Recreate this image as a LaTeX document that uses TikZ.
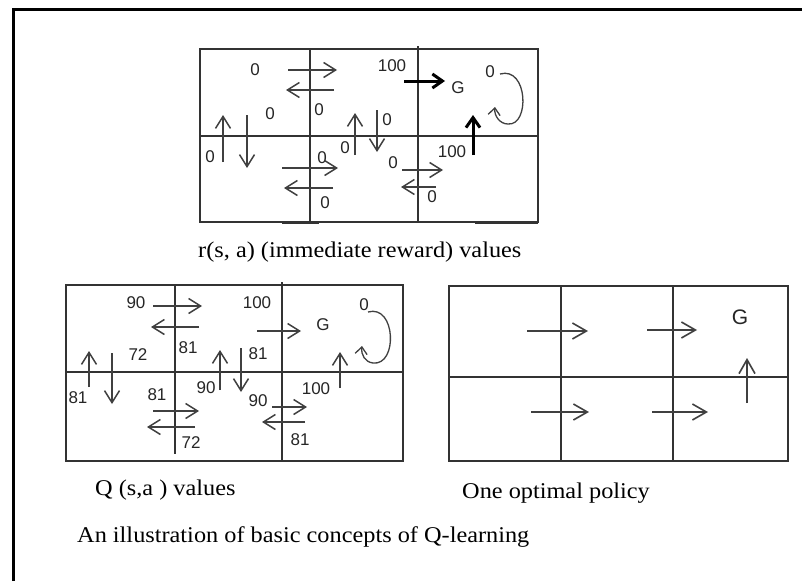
\documentclass[tikz,border=0pt]{standalone}
\usepackage{fontspec}
\setmainfont{Liberation Serif}
\setsansfont{Liberation Sans}
\usetikzlibrary{arrows.meta}
\begin{document}
\begin{tikzpicture}[x=1pt,y=-1pt,
  gridline/.style={draw=black!80,line width=1.7pt},
  arr/.style={-{Straight Barb[length=12pt,width=15pt]},draw=black!75,line width=1.5pt},
  parr/.style={-{Straight Barb[length=14pt,width=16pt]},draw=black!75,line width=1.6pt},
  barr/.style={-{Straight Barb[length=10pt,width=14pt]},draw=black,line width=3pt},
  loopline/.style={draw=black!75,line width=1.3pt},
  num/.style={font=\sffamily\fontsize{17}{17}\selectfont,text=black!85,inner sep=0pt},
  bigG/.style={font=\sffamily\fontsize{21}{21}\selectfont,text=black!85,inner sep=0pt},
  caption/.style={font=\fontsize{22.5}{26}\selectfont,inner sep=0pt,anchor=base west,xscale=1.08}]
\useasboundingbox (0,0) rectangle (802,581);
\fill[white] (0,0) rectangle (802,581);
% frame
\draw[line width=3pt,black] (13.5,581) -- (13.5,9.5) -- (802,9.5);

% ---------------- top grid r(s,a)
\draw[gridline] (200,49) rectangle (538,222);
\draw[gridline] (200,136) -- (538,136);
\draw[gridline] (310,49) -- (310,222);
\draw[gridline] (418,46) -- (418,222);
\draw[line width=3pt,black!80] (282,222) -- (319,222);
\draw[line width=3pt,black!80] (475,222) -- (538,222);

\node[num] (r1) at (255,70) {0};
\node[num] (r2) at (270,114) {0};
\node[num] (r3) at (210,157) {0};
\node[num] (r4) at (319,110) {0};
\node[num] (r5) at (392,66) {100};
\node[num] (rG) at (458,88) {G};
\node[num] (r6) at (387,120) {0};
\node[num] (r7) at (345,148) {0};
\node[num] (r8) at (490,72) {0};
\node[num] (r9) at (452,152) {100};
\node[num] (r10) at (322,158) {0};
\node[num] (r11) at (325,203) {0};
\node[num] (r12) at (393,163) {0};
\node[num] (r13) at (432,197) {0};

\draw[arr] (223,162) -- (223,115);
\draw[arr] (247,115) -- (247,168);
\draw[arr] (288,70) -- (337,70);
\draw[arr] (334,90) -- (286,90);
\draw[barr] (404,81) -- (445,81);
\draw[arr] (355,155) -- (355,113);
\draw[arr] (377,110) -- (377,152);
\draw[barr] (473,155) -- (473,115);
\draw[arr] (282,168) -- (338,168);
\draw[arr] (333,188) -- (284,188);
\draw[arr] (402,170) -- (443,170);
\draw[arr] (436,187) -- (401,187);
\draw[loopline,-{Straight Barb[length=7pt,width=12pt]}] (500,74) .. controls (528,66) and (530,126) .. (508,124) .. controls (500,124) and (494,116) .. (495,107);

% ---------------- Q grid
\draw[gridline] (66,285) rectangle (403,461);
\draw[gridline] (66,372) -- (403,372);
\draw[gridline] (175,285) -- (175,454);
\draw[gridline] (282,282) -- (282,461);

\node[num] (q1) at (136,303) {90};
\node[num] (q2) at (257,303) {100};
\node[num] (qG) at (323,325) {G};
\node[num] (q3) at (364,305) {0};
\node[num] (q4) at (138,355) {72};
\node[num] (q5) at (188,348) {81};
\node[num] (q6) at (78,398) {81};
\node[num] (q7) at (258,354) {81};
\node[num] (q8) at (206,388) {90};
\node[num] (q9) at (316,389) {100};
\node[num] (q10) at (157,395) {81};
\node[num] (q11) at (191,443) {72};
\node[num] (q12) at (258,401) {90};
\node[num] (q13) at (300,440) {81};

\draw[arr] (153,306) -- (202,306);
\draw[arr] (199,327) -- (151,327);
\draw[arr] (257,331) -- (301,331);
\draw[arr] (340,388) -- (340,352);
\draw[arr] (89,387) -- (89,351);
\draw[arr] (112,353) -- (112,404);
\draw[arr] (220,390) -- (220,350);
\draw[arr] (241,348) -- (241,392);
\draw[arr] (153,411) -- (199,411);
\draw[arr] (195,427) -- (147,427);
\draw[arr] (272,407) -- (307,407);
\draw[arr] (305,422) -- (262,422);
\draw[loopline,-{Straight Barb[length=7pt,width=12pt]}] (368,312) .. controls (396,304) and (398,366) .. (373,363) .. controls (365,362) and (361,355) .. (362,346);

% ---------------- policy grid
\draw[gridline] (449,286) rectangle (788,461);
\draw[gridline] (449,377) -- (788,377);
\draw[gridline] (561,286) -- (561,461);
\draw[gridline] (673,286) -- (673,461);
\node[bigG] (pG) at (740,317) {G};
\draw[parr] (527,331) -- (588,331);
\draw[parr] (647,330) -- (697,330);
\draw[parr] (747,403) -- (747,358);
\draw[parr] (531,412) -- (589,412);
\draw[parr] (652,412) -- (708,412);

% ---------------- captions
\node[caption] (c1) at (198,257) {r(s, a) (immediate reward) values};
\node[caption] (c2) at (95,495) {Q (s,a ) values};
\node[caption] (c3) at (462,498) {One optimal policy};
\node[caption] (c4) at (77,542) {An illustration of basic concepts of Q-learning};
\end{tikzpicture}
\end{document}
